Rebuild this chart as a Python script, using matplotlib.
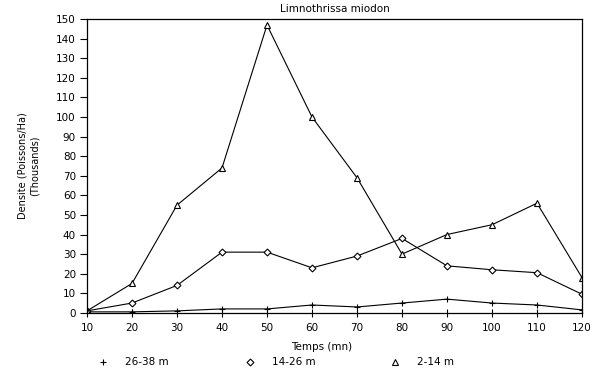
import matplotlib.pyplot as plt
from matplotlib.lines import Line2D

temps = [10, 20, 30, 40, 50, 60, 70, 80, 90, 100, 110, 120]
prof_26_38 = [0.5, 0.5, 1, 2, 2, 4, 3, 5, 7, 5, 4, 1.5]
prof_14_26 = [1, 5, 14, 31, 31, 23, 29, 38, 24, 22, 20.5, 9.5]
prof_2_14 = [1, 15, 55, 74, 147, 100, 69, 30, 40, 45, 56, 18]
labels = ['26-38 m', '14-26 m', '2-14 m']

fig = plt.figure(figsize=(6, 3.76), dpi=100)
ax = fig.add_axes([0.145, 0.168, 0.825, 0.781])

lw = 0.8
ax.plot(temps, prof_26_38, color='black', lw=lw, marker='+', ms=5, mew=0.8)
ax.plot(temps, prof_14_26, color='black', lw=lw, marker='D', ms=3.5,
        mfc='white', mew=0.8)
ax.plot(temps, prof_2_14, color='black', lw=lw, marker='^', ms=5,
        mfc='white', mew=0.8)

ax.set_xlim(10, 120)
ax.set_ylim(0, 150)
ax.set_xticks(temps)
ax.set_yticks(range(0, 151, 10))
ax.tick_params(axis='x', direction='inout', length=6, labelsize=7.5, pad=4)
ax.tick_params(axis='y', direction='out', length=5, labelsize=7.5, pad=3)
for s in ax.spines.values():
    s.set_linewidth(0.9)

ax.set_title('Limnothrissa miodon', fontsize=7.5, pad=5)
ax.set_ylabel('Densite (Poissons/Ha)\n(Thousands)', fontsize=7, labelpad=12)

# titre x et legende en bas, places a la main
fig.text(0.536, 0.077, 'Temps (mn)', fontsize=7.5, ha='center', va='center')
marqueurs = ['+', 'D', '^']
tailles = [5, 3.5, 5]
xs = [0.172, 0.417, 0.658]
for lab, m, t, x in zip(labels, marqueurs, tailles, xs):
    fig.add_artist(Line2D([x], [0.037], marker=m, color='black', ms=t,
                          mfc='white', mew=0.8, lw=0,
                          transform=fig.transFigure))
    fig.text(x + 0.037, 0.037, lab, fontsize=7.5, va='center')

fig.savefig('out.png')
